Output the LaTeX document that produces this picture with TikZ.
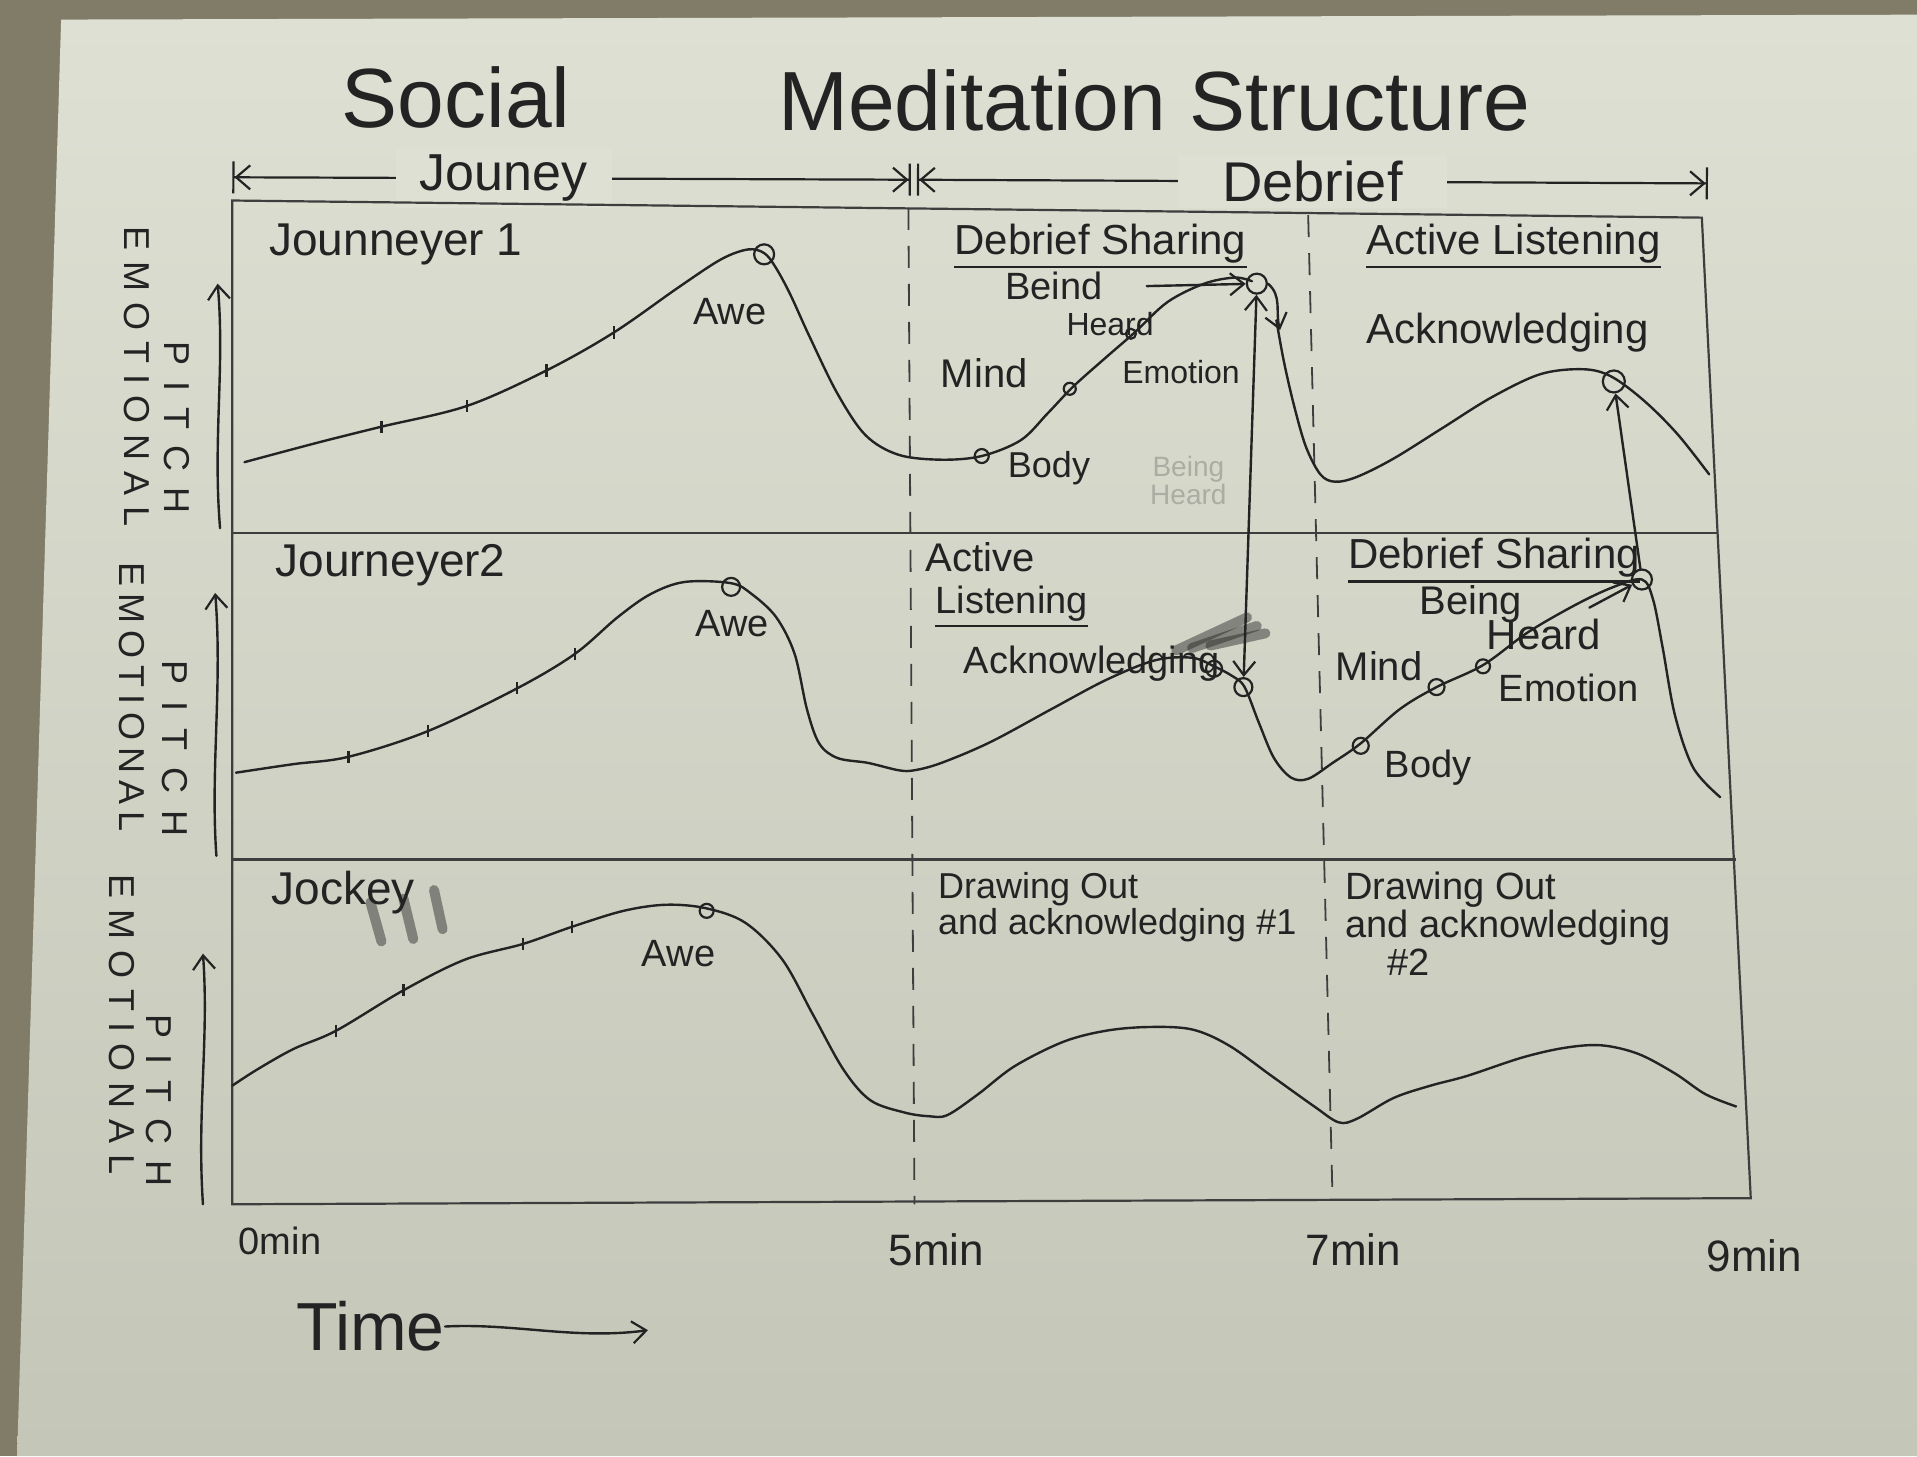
\documentclass[tikz,border=0pt]{standalone}
\usepackage{fontspec}
\setmainfont{Liberation Sans}
\usetikzlibrary{arrows.meta}
\definecolor{ink}{RGB}{35,35,35}
\definecolor{pencil}{RGB}{62,62,62}
\definecolor{papertop}{RGB}{222,224,211}
\definecolor{paperbot}{RGB}{196,198,184}
\definecolor{table}{RGB}{128,124,104}
\definecolor{faded}{RGB}{172,173,162}
\begin{document}
\begin{tikzpicture}[x=0.6113pt,y=-0.6113pt,
  tx/.style={font=\fontsize{#1}{#1}\selectfont, text=ink, inner sep=0pt},
  curve/.style={draw=ink, line width=1.2pt, line join=round, line cap=round},
  frame/.style={draw=pencil, line width=1.1pt},
  divider/.style={draw=pencil, line width=0.9pt, dash pattern=on 11pt off 8pt},
  ring/.style={circle, draw=ink, line width=1.1pt, minimum size=#1, inner sep=0pt},
  ring/.default=8pt,
  tickmark/.style={draw=ink, line width=1.1pt},
  barb/.style={-{Straight Barb[length=7pt,width=11pt,line width=1.1pt]}},
  dbarb/.style={{Straight Barb[length=7pt,width=11pt,line width=1.1pt]}-{Straight Barb[length=7pt,width=11pt,line width=1.1pt]}},
  dimline/.style={draw=ink, line width=1.1pt, {Bar[width=16pt,line width=1.1pt]Straight Barb[length=7pt,width=12pt,line width=1.1pt]}-{Straight Barb[length=7pt,width=12pt,line width=1.1pt]Bar[width=16pt,line width=1.1pt]}},
  uline/.style={draw=ink, line width=1.1pt},
  smudge/.style={draw=ink, line width=5pt, opacity=0.45, line cap=round}
]
\useasboundingbox (0,0) rectangle (1568,1191);
\fill[table] (0,0) rectangle (1568,1191);
\shade[top color=papertop, bottom color=paperbot] (50,16) -- (1568,12) -- (1568,1191) -- (14,1191) -- cycle;

% title
\node[tx=42] (soc) at (373,80) {Social};
\node[tx=42] (med) at (944,82) {Meditation Structure};

% phase dimension lines
\coordinate (d0) at (190,145);
\coordinate (d1) at (745,147);
\coordinate (d1b) at (750,147);
\coordinate (d2) at (1397,150);
\draw[dimline] (d0) -- node[pos=0.4, tx=26, fill=papertop, inner xsep=12pt, inner ysep=3pt] (jou) {Jouney} (d1);
\draw[dimline] (d1b) -- node[pos=0.5, tx=28, fill=papertop, inner xsep=22pt, inner ysep=3pt] (deb) {Debrief} (d2);

% frame
\coordinate (TL) at (190,164);
\coordinate (TR) at (1392,178);
\coordinate (BR) at (1432,980);
\coordinate (BL) at (190,985);
\draw[frame] (TL) -- (TR) -- (BR) -- (BL) -- cycle;
\coordinate (s1l) at (190,436); \coordinate (s1r) at (1405,436);
\coordinate (s2l) at (190,703); \coordinate (s2r) at (1420,703);
\draw[frame] (s1l) -- (s1r);
\draw[frame] (s2l) -- (s2r);
\coordinate (v1t) at (743,170); \coordinate (v1b) at (748,985);
\coordinate (v2t) at (1070,176); \coordinate (v2b) at (1090,983);
\draw[divider] (v1t) -- (v1b);
\draw[divider] (v2t) -- (v2b);

% left axis labels
\node[tx=18, rotate=-90] (emo1) at (112,308) {E\kern5.5pt M\kern5.5pt O\kern5.5pt T\kern5.5pt I\kern5.5pt O\kern5.5pt N\kern5.5pt A\kern5.5pt L};
\node[tx=18, rotate=-90] (pit1) at (145,350) {P\kern8pt I\kern8pt T\kern8pt C\kern8pt H};
\node[tx=18, rotate=-90] (emo2) at (108,570) {E\kern3.6pt M\kern3.6pt O\kern3.6pt T\kern3.6pt I\kern3.6pt O\kern3.6pt N\kern3.6pt A\kern3.6pt L};
\node[tx=18, rotate=-90] (pit2) at (143,612) {P\kern8.5pt I\kern8.5pt T\kern8.5pt C\kern8.5pt H};
\node[tx=18, rotate=-90] (emo3) at (100,838) {E\kern5.5pt M\kern5.5pt O\kern5.5pt T\kern5.5pt I\kern5.5pt O\kern5.5pt N\kern5.5pt A\kern5.5pt L};
\node[tx=18, rotate=-90] (pit3) at (130,900) {P\kern8pt I\kern8pt T\kern8pt C\kern8pt H};
\coordinate (ya1s) at (180,432); \coordinate (ya1e) at (178,232);
\coordinate (ya2s) at (177,700); \coordinate (ya2e) at (176,485);
\coordinate (ya3s) at (166,985); \coordinate (ya3e) at (166,780);
\draw[curve, barb] (ya1s) .. controls (174,360) and (184,300) .. (ya1e);
\draw[curve, barb] (ya2s) .. controls (172,630) and (182,560) .. (ya2e);
\draw[curve, barb] (ya3s) .. controls (161,910) and (171,850) .. (ya3e);

% ---------- row 1 ----------
\node[tx=23, anchor=west] (j1) at (220,200) {Jounneyer 1};
\node[tx=19] (awe1) at (597,255) {Awe};
\node[tx=21] (ds1) at (900,199) {Debrief Sharing};
\draw[uline] ([yshift=-2pt]ds1.south west) -- ([yshift=-2pt]ds1.south east);
\node[tx=21] (al1) at (1238,199) {Active Listening};
\draw[uline] ([yshift=-2pt]al1.south west) -- ([yshift=-2pt]al1.south east);
\node[tx=19] (bg1) at (862,234) {Beind};
\node[tx=16] (hd1) at (908,265) {Heard};
\node[tx=20] (mi1) at (805,305) {Mind};
\node[tx=16] (em1) at (966,304) {Emotion};
\node[tx=18] (bo1) at (858,383) {Body};
\node[tx=14, text=faded, align=center] (fb1) at (972,393) {Being\\Heard};
\node[tx=21] (ak1) at (1233,272) {Acknowledging};

\draw[curve] plot[smooth, tension=0.55] coordinates {(200,378) (260,362) (312,349) (382,332) (447,303) (502,272) (555,235) (590,212) (612,204) (625,207) (634,218) (646,240) (662,275) (685,322) (708,356) (735,372) (770,376) (803,373) (835,360) (857,338) (878,316) (905,292) (928,272) (955,247) (985,232) (1010,227) (1024,230)};
\draw[curve] plot[smooth, tension=0.55] coordinates {(1044,262) (1050,295) (1058,330) (1068,365) (1080,388) (1092,394) (1110,390) (1140,375) (1180,350) (1220,325) (1260,306) (1295,302) (1318,308) (1345,328) (1372,355) (1398,388)};
\foreach \p in {(312,349),(382,332),(447,303),(502,272)} \draw[tickmark] \p ++(0,-5) -- ++(0,10);

\node[ring=10pt] (cAwe1) at (625,208) {};
\node[ring=7pt] (cBo1) at (803,373) {};
\node[ring=6pt] (cMi1) at (875,318) {};
\node[ring=5pt] (cEm1) at (925,273) {};
\node[ring=10pt] (cBH1) at (1028,232) {};
\node[ring=11pt] (cAk1) at (1320,312) {};
\coordinate (bgStart) at (938,234);
\draw[curve, barb] (bgStart) -- (cBH1);
\coordinate (dropTip) at (1047,270);
\draw[curve, barb] (cBH1.east) to[out=-40, in=105] (dropTip);

% ---------- row 2 ----------
\node[tx=23, anchor=west] (j2) at (225,462) {Journeyer2};
\node[tx=19] (awe2) at (599,510) {Awe};
\node[tx=20, anchor=west] (act2) at (757,456) {Active};
\node[tx=19, anchor=west] (lis2) at (765,494) {Listening};
\draw[uline] ([yshift=-2pt]lis2.south west) -- ([yshift=-2pt]lis2.south east);
\node[tx=19] (ak2) at (893,543) {Acknowledging};
\draw[smudge] (962,532) -- (1020,505);
\draw[smudge] (975,530) -- (1028,512);
\draw[smudge] (990,528) -- (1035,518);
\node[tx=21] (ds2) at (1222,456) {Debrief Sharing};
\draw[uline] ([yshift=-2pt]ds2.south west) -- ([yshift=-2pt]ds2.south east);
\node[tx=20] (bg2) at (1203,494) {Being};
\node[tx=21] (hd2) at (1263,519) {Heard};
\node[tx=20] (mi2) at (1128,545) {Mind};
\node[tx=19] (em2) at (1283,563) {Emotion};
\node[tx=19] (bo2) at (1168,628) {Body};

\draw[curve] plot[smooth, tension=0.55] coordinates {(193,632) (240,625) (285,619) (350,598) (423,563) (470,535) (505,505) (532,486) (560,476) (598,477) (615,486) (635,505) (650,535) (660,580) (670,608) (685,620) (710,624) (735,630) (748,630) (770,624) (810,607) (860,580) (905,556) (945,540) (975,538) (993,545) (1008,553) (1018,562) (1030,592) (1042,620) (1056,636) (1070,637) (1090,624) (1113,608) (1145,580) (1175,562) (1213,544) (1250,517) (1290,494) (1320,480) (1343,474) (1352,490) (1360,530) (1370,585) (1385,628) (1407,652)};
\foreach \p in {(285,619),(350,598),(423,563),(470,535)} \draw[tickmark] \p ++(0,-5) -- ++(0,10);

\node[ring=9pt] (cAwe2) at (598,480) {};
\node[ring=8pt] (cAk2a) at (993,547) {};
\node[ring=9pt] (cAk2b) at (1017,562) {};
\node[ring=8pt] (cBo2) at (1113,610) {};
\node[ring=8pt] (cMi2) at (1175,562) {};
\node[ring=7pt] (cEm2) at (1213,545) {};
\node[ring=10pt] (cDS2) at (1343,474) {};
\draw[curve, dbarb] (cAk2b) -- (cBH1);
\draw[curve, barb] (cDS2) -- (cAk1);
\coordinate (hdStart) at (1300,497);
\draw[curve, barb] (hdStart) -- (cDS2);

% ---------- row 3 ----------
\node[tx=23, anchor=west] (jk) at (222,730) {Jockey};
\draw[smudge] (303,738) -- (312,770);
\draw[smudge] (330,735) -- (338,768);
\draw[smudge] (355,728) -- (362,760);
\node[tx=19] (awe3) at (555,780) {Awe};
\node[tx=18, anchor=north west, align=left] (do1) at (767,713) {Drawing Out\\and acknowledging \#1};
\node[tx=19, anchor=north west, align=left] (do2) at (1100,713) {Drawing Out\\and acknowledging\\\hspace*{1.1em}\#2};

\draw[curve] plot[smooth, tension=0.55] coordinates {(190,888) (210,875) (240,858) (275,843) (330,810) (380,785) (428,772) (468,758) (510,745) (545,740) (578,743) (610,755) (640,785) (665,830) (690,875) (712,900) (740,910) (760,913) (775,912) (800,895) (830,872) (870,852) (905,843) (940,840) (975,842) (1005,855) (1040,880) (1075,905) (1095,918) (1110,915) (1140,898) (1170,888) (1200,880) (1245,865) (1280,857) (1310,855) (1340,862) (1370,878) (1395,895) (1420,905)};
\foreach \p in {(275,843),(330,810),(428,772),(468,758)} \draw[tickmark] \p ++(0,-5) -- ++(0,10);
\node[ring=7pt] (cAwe3) at (578,745) {};

% ---------- time axis ----------
\node[tx=19] (t0) at (229,1015) {0min};
\node[tx=22] (t5) at (766,1022) {5min};
\node[tx=22] (t7) at (1107,1022) {7min};
\node[tx=22] (t9) at (1435,1027) {9min};
\node[tx=34] (time) at (303,1085) {Time};
\coordinate (timeEnd) at (530,1088);
\draw[curve, barb] (time.east) .. controls (420,1082) and (470,1096) .. (timeEnd);
\end{tikzpicture}
\end{document}
